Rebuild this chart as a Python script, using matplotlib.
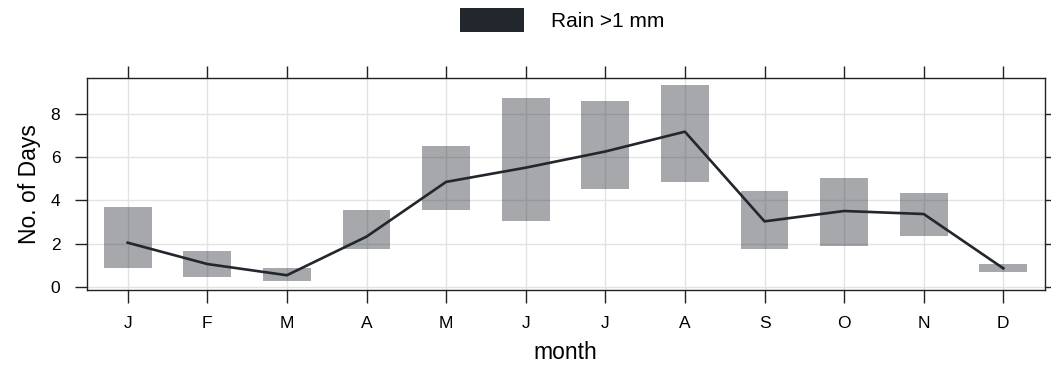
import numpy as np
import matplotlib
matplotlib.use('Agg')
import matplotlib.pyplot as plt
from matplotlib.patches import Patch

plt.rcParams['font.family'] = ['Liberation Sans', 'DejaVu Sans']

# monthly rain days (>1 mm): range low/high and mean line
months = np.arange(1, 13)
month_labels = ['J', 'F', 'M', 'A', 'M', 'J', 'J', 'A', 'S', 'O', 'N', 'D']
rain_low = [0.87, 0.46, 0.26, 1.75, 3.56, 3.03, 4.53, 4.86, 1.75, 1.89, 2.35, 0.68]
rain_high = [3.70, 1.67, 0.85, 3.56, 6.53, 8.76, 8.63, 9.37, 4.43, 5.04, 4.36, 1.07]
rain_mean = [2.04, 1.05, 0.53, 2.32, 4.86, 5.52, 6.27, 7.19, 3.03, 3.51, 3.37, 0.85]

dark = '#21272d'

fig = plt.figure(figsize=(10.51, 3.76), dpi=100)
ax = fig.add_axes([0.0825, 0.229, 0.9115, 0.563])

heights = np.array(rain_high) - np.array(rain_low)
ax.bar(months, heights, bottom=rain_low, width=0.6, color=dark, alpha=0.4,
       linewidth=0, zorder=2)
ax.plot(months, rain_mean, color=dark, linewidth=1.9, zorder=3)

ax.set_xlim(0.485, 12.52)
ax.set_ylim(-0.15, 9.67)
ax.set_xticks(months)
ax.set_xticklabels(month_labels)
ax.set_yticks([0, 2, 4, 6, 8])
ax.grid(True, color='#e3e3e3', linewidth=1.0, zorder=1)
ax.set_axisbelow(True)

ax.tick_params(axis='both', direction='out', length=9, width=1.0,
               labelsize=12.5, pad=10, color='#222222')
ax.tick_params(top=True, right=True)
for s in ax.spines.values():
    s.set_linewidth(1.0)
    s.set_color('#222222')

ax.set_xlabel('month', fontsize=16.5, labelpad=7)
ax.set_ylabel('No. of Days', fontsize=16.5, labelpad=7)

handle = Patch(facecolor=dark, edgecolor='none')
fig.legend([handle], ['Rain >1 mm'], loc='center',
           bbox_to_anchor=(0.535, 1 - 20 / 376), frameon=False,
           fontsize=15, handlelength=3.1, handleheight=1.4,
           handletextpad=1.3, borderpad=0)

fig.savefig('out.png', dpi=100)
